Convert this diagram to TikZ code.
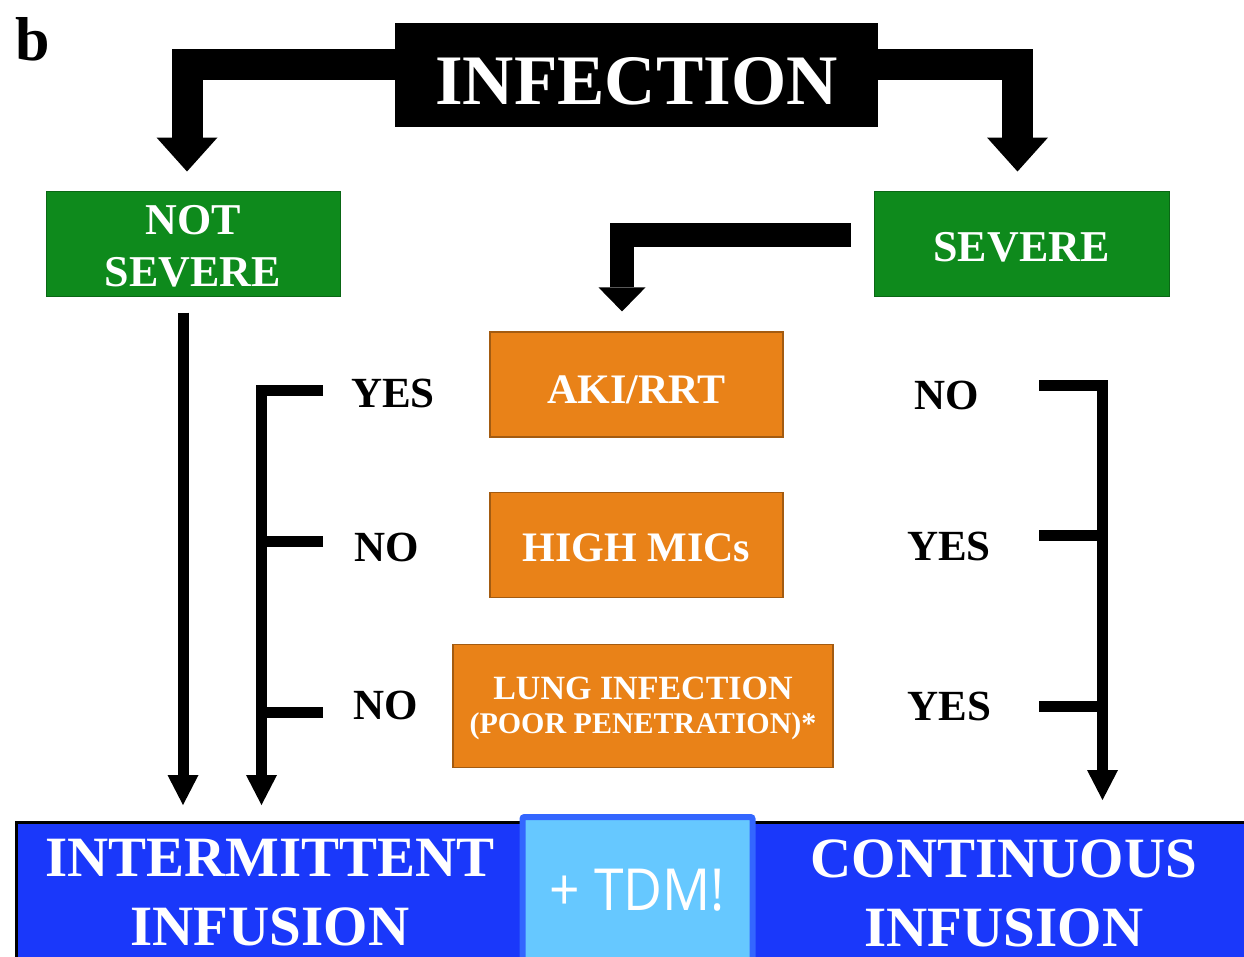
\documentclass[tikz,border=0pt]{standalone}
\usepackage{fontspec}
\usepackage{graphicx}
\setmainfont{Liberation Serif}
\newfontfamily\tdmfont{Open Sans}
\usetikzlibrary{arrows.meta,calc}
\definecolor{boxgreen}{RGB}{14,138,28}
\definecolor{boxorange}{RGB}{233,130,24}
\definecolor{barblue}{RGB}{26,56,250}
\definecolor{tdmfill}{RGB}{102,200,255}
\definecolor{tdmedge}{RGB}{51,102,255}
\newcommand{\fsz}[2]{\fontsize{#1}{#2}\selectfont}
\newcommand{\lowr}[2]{\raisebox{-#1}[\height][\depth]{#2}}
\begin{document}
\begin{tikzpicture}[x=1pt,y=-1pt,
  box/.style={rectangle, inner sep=0pt, text=white, font=\bfseries, align=center},
  greenbox/.style={box, fill=boxgreen, draw=boxgreen!75!black, line width=1pt,
    minimum width=294pt, minimum height=105pt, font=\bfseries\fsz{44}{52}},
  orangebox/.style={box, fill=boxorange, draw=boxorange!70!black, line width=1.2pt,
    minimum width=293pt, minimum height=105pt, font=\bfseries\fsz{42}{42}},
  answer/.style={inner sep=0pt, font=\bfseries\fsz{43}{43}},
  bigtxt/.style={inner sep=0pt, text=white, align=center, font=\bfseries\fsz{57}{69}},
  fatarrow/.style={line width=31pt, -{Triangle[width=61pt,length=34pt,line width=0pt]}},
  midarrow/.style={line width=24pt, -{Triangle[width=47pt,length=24pt,line width=0pt]}},
  thinarrow/.style={line width=11pt, -{Triangle[width=31pt,length=30pt,line width=0pt]}},
  thinline/.style={line width=11pt}
]
\useasboundingbox (0,0) rectangle (1244,956);
\fill[white] (0,0) rectangle (1244,956);

% panel letter
\node[inner sep=0pt, font=\bfseries\fsz{62}{62}] (lbl) at (33,39) {b};

% main boxes
\node[box, fill=black, minimum width=483pt, minimum height=104pt, font=\bfseries\fsz{71}{71}]
  (inf) at (636.5,75) {\lowr{6pt}{INFECTION}};
\node[greenbox] (ns) at (193,243.5) {\lowr{7pt}{\begin{tabular}{@{}c@{}}NOT\\SEVERE\end{tabular}}};
\node[greenbox, minimum width=295pt] (sev) at (1021.5,243.5) {\lowr{4pt}{SEVERE}};

\node[orangebox] (aki) at (636.5,384.5) {\lowr{5pt}{AKI/RRT}};
\node[orangebox] (mic) at (636.5,545) {\lowr{3pt}{HIGH MICs}};
\node[orangebox, minimum width=380pt, minimum height=123pt, font=\bfseries\fsz{30}{34}]
  (lung) at (643,706) {\lowr{4pt}{\begin{tabular}{@{}c@{}}{\fsz{34}{34}LUNG INFECTION}\\(POOR PENETRATION)*\end{tabular}}};

% answers
\node[answer] (yes1) at (393,393) {YES};
\node[answer] (no2) at (386.5,547) {NO};
\node[answer] (no3) at (386,705) {NO};
\node[answer] (no1) at (946.5,395) {NO};
\node[answer] (yes2) at (949,546) {YES};
\node[answer] (yes3) at (949.5,706) {YES};

% bottom bar
\node[rectangle, inner sep=0pt, fill=barblue, draw=black, line width=3pt,
  minimum width=1240pt, minimum height=150pt, anchor=north west] (bar) at (14.5,820.5) {};
\node[bigtxt] (iinf) at (270,893) {INTERMITTENT\\INFUSION};
\node[bigtxt] (cinf) at (1004,893) {CONTINUOUS\\INFUSION};
\node[rectangle, fill=tdmfill, draw=tdmedge, line width=6pt, rounded corners=2pt,
  minimum width=230pt, minimum height=146pt, inner sep=0pt, text=white,
  font=\tdmfont\fsz{58}{58}] (tdm) at (637.5,890) {\scalebox{0.92}[1]{+ TDM!}};

% fat arrows from INFECTION
\draw[fatarrow] ($(inf.west)+(0,-10.5)$) -| ($(ns.north)+(-6,-19)$);
\draw[fatarrow] ($(inf.east)+(0,-10.5)$) -| ($(sev.north)+(-4,-19)$);
% severe -> criteria
\draw[midarrow] ($(sev.west)+(-23,-8.5)$) -| ($(aki.north)+(-14.5,-20)$);

% not severe -> intermittent
\draw[thinarrow] ($(ns.south)+(-10,16)$) -- ($(ns.south |- bar.north)+(-10,-15.5)$);

% left bracket (criteria -> intermittent)
\coordinate (l1) at (323,390);
\coordinate (l2) at (323,541);
\coordinate (l3) at (323,712);
\coordinate (lend) at ($(bar.north)+(-374.5,-15.5)$);
\draw[thinarrow] (l1) -| (lend);
\draw[thinline] (l2) -- (l2 -| lend);
\draw[thinline] (l3) -- (l3 -| lend);

% right bracket (criteria -> continuous)
\coordinate (r1) at (1039,385);
\coordinate (r2) at (1039,535);
\coordinate (r3) at (1039,706);
\coordinate (rend) at ($(bar.north)+(466.5,-20.5)$);
\draw[thinarrow] (r1) -| (rend);
\draw[thinline] (r2) -- (r2 -| rend);
\draw[thinline] (r3) -- (r3 -| rend);
\end{tikzpicture}
\end{document}
